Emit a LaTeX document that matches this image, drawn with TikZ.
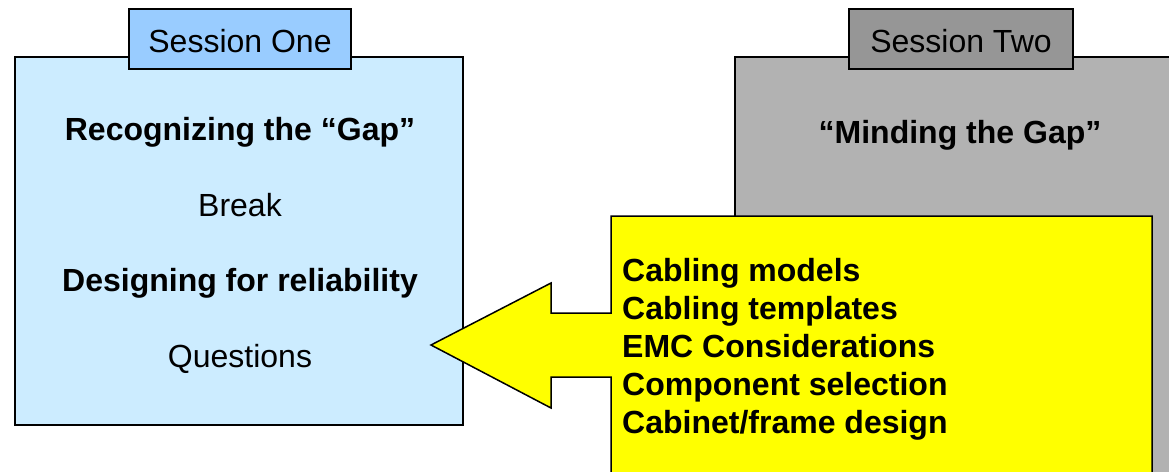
\documentclass[tikz,border=0pt]{standalone}
\usepackage{fontspec}
\setmainfont{Liberation Sans}
\definecolor{lightblue}{HTML}{CCECFF}
\definecolor{tabblue}{HTML}{99CCFF}
\definecolor{boxgray}{HTML}{B2B2B2}
\definecolor{tabgray}{HTML}{969696}
\definecolor{callyellow}{HTML}{FFFF00}
\begin{document}
\begin{tikzpicture}[x=1pt,y=-1pt,
  panel/.style={draw=black, line width=1.5pt, inner sep=0pt},
  txt/.style={inner sep=0pt, font=\fontsize{32}{38}\selectfont},
  btxt/.style={inner sep=0pt, font=\fontsize{32}{38}\selectfont\bfseries}]
\clip (0,0) rectangle (1169,471);
\fill[white] (0,0) rectangle (1169,471);
% Session two
\node[panel, fill=boxgray, minimum width=445pt, minimum height=423pt] (s2) at (957.5,268.5) {};
\node[panel, fill=tabgray, minimum width=224pt, minimum height=60pt] (s2tab) at (961,39) {};
\node[txt, anchor=base] (s2title) at (961,52) {Session Two};
\node[btxt, anchor=base] (s2a) at (960,143) {“Minding the Gap”};
% Session one
\node[panel, fill=lightblue, minimum width=448pt, minimum height=368pt] (s1) at (239,241) {};
\node[panel, fill=tabblue, minimum width=222pt, minimum height=60pt] (s1tab) at (240,39) {};
\node[txt, anchor=base] (s1title) at (240,52) {Session One};
\node[btxt, anchor=base] (s1a) at (240,140) {Recognizing the “Gap”};
\node[txt, anchor=base] (s1b) at (240,216) {Break};
\node[btxt, anchor=base] (s1c) at (240,291) {Designing for reliability};
\node[txt, anchor=base] (s1d) at (240,367) {Questions};
% Callout
\coordinate (tip) at (431,345);
\draw[line width=1.5pt, fill=callyellow, line join=miter]
  (611,216) -- (1152,216) -- (1152,480) -- (611,480) -- (611,377) -- (551,377)
  -- (551,408) -- (tip) -- (551,283) -- (551,313) -- (611,313) -- cycle;
\node[btxt, anchor=base west] (c1) at (622,281) {Cabling models};
\node[btxt, anchor=base west] (c2) at (622,319) {Cabling templates};
\node[btxt, anchor=base west] (c3) at (622,357.5) {EMC Considerations};
\node[btxt, anchor=base west] (c4) at (622,395.5) {Component selection};
\node[btxt, anchor=base west] (c5) at (622,433.5) {Cabinet/frame design};
\end{tikzpicture}
\end{document}
